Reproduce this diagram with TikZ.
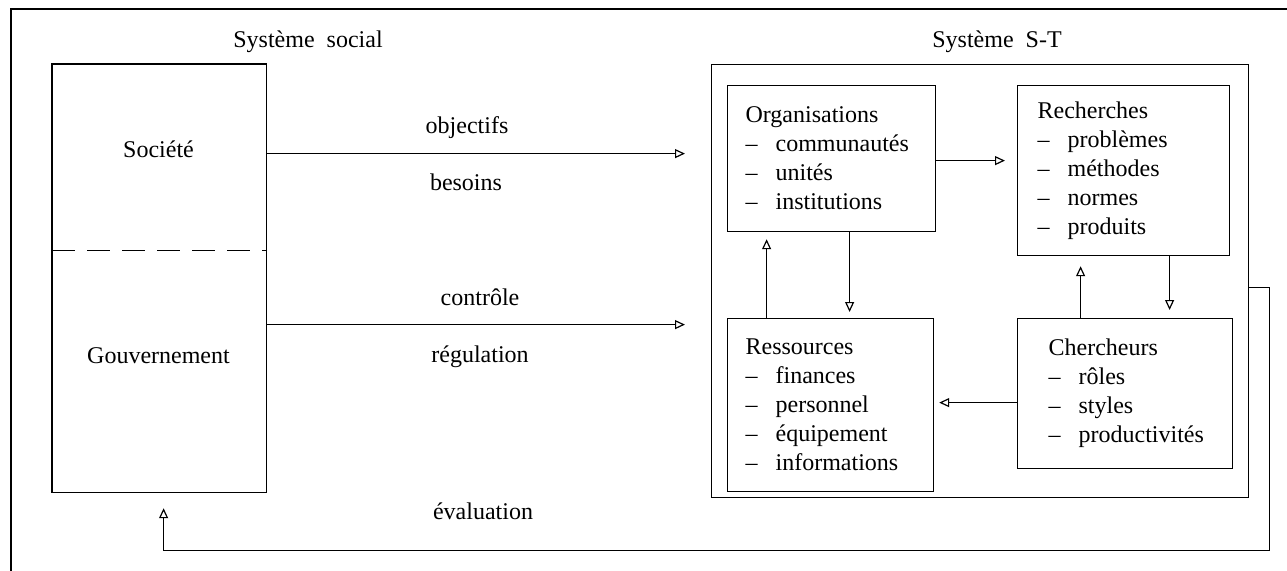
\documentclass[tikz,border=0pt]{standalone}
\usepackage{fontspec}
\setmainfont{Liberation Serif}
\usetikzlibrary{arrows.meta}
\newcommand\itm[1]{\makebox[15pt][l]{–}#1}
\begin{document}
\begin{tikzpicture}[x=0.5pt,y=-0.5pt,line width=0.6pt,
  every node/.style={font=\fontsize{12}{14.5}\selectfont},
  arr/.style={-{Triangle[open,length=5pt,width=4.5pt,line width=0.6pt]}},
  box/.style={draw,anchor=north west,inner sep=0pt},
  area/.style={anchor=north west,inner sep=0pt},
  txt/.style={anchor=west,align=left,inner sep=0pt},
  lbl/.style={anchor=base,inner sep=0pt}]
\useasboundingbox (0,0) rectangle (1287,570);
\clip (0,0) rectangle (1287,570);
% outer frame
\draw (1300,9) -- (11,9) -- (11,600);
% titles
\node[lbl] (tsoc) at (308,47) {Système\ \ social};
\node[lbl] (tst) at (997,47) {Système\ \ S-T};
% social system
\node[area,minimum width=106.5pt,minimum height=92.5pt] (soc) at (52,64) {};
\node[area,minimum width=106.5pt,minimum height=121pt] (gov) at (52,249) {};
\draw (soc.north west) rectangle (gov.south east);
\draw[dash pattern=on 11.5pt off 6pt] (soc.south west) -- (soc.south east);
\node[lbl] (soct) at (158.5,157) {Société};
\node[lbl] (govt) at (158.5,363) {Gouvernement};
% S-T system
\node[box,minimum width=268.5pt,minimum height=216.5pt] (st) at (711,64) {};
\node[box,minimum width=104pt,minimum height=73pt] (org) at (727,85) {};
\node[box,minimum width=106pt,minimum height=85pt] (rech) at (1017,85) {};
\node[box,minimum width=103pt,minimum height=86.5pt] (ress) at (727,318) {};
\node[box,minimum width=107.5pt,minimum height=75pt] (cher) at (1017,318) {};
\node[txt] (orgt) at ([xshift=9pt]org.west) {Organisations\\\itm{communautés}\\\itm{unités}\\\itm{institutions}};
\node[txt] (recht) at ([xshift=10pt]rech.west) {Recherches\\\itm{problèmes}\\\itm{méthodes}\\\itm{normes}\\\itm{produits}};
\node[txt] (resst) at ([xshift=9pt]ress.west) {Ressources\\\itm{finances}\\\itm{personnel}\\\itm{équipement}\\\itm{informations}};
\node[txt] (chert) at ([xshift=15.5pt]cher.west) {Chercheurs\\\itm{rôles}\\\itm{styles}\\\itm{productivités}};
% labels
\node[lbl] (lobj) at (467,133) {objectifs};
\node[lbl] (lbes) at (466,190) {besoins};
\node[lbl] (lcon) at (480,305) {contrôle};
\node[lbl] (lreg) at (480,362) {régulation};
\node[lbl] (leva) at (483,519) {évaluation};
% connectors
\coordinate (c1) at ([yshift=1.75pt]soc.east);
\coordinate (c2) at ([yshift=23pt]gov.east);
\coordinate (c3) at ([yshift=-1pt]org.east);
\coordinate (c4) at ([xshift=9pt]org.south);
\coordinate (c5) at ([xshift=-32pt]ress.north);
\coordinate (c6) at ([xshift=23pt]rech.south);
\coordinate (c7) at ([xshift=-22.25pt]cher.north);
\coordinate (c8) at ([yshift=-4.5pt]cher.west);
\coordinate (c9) at ([yshift=-3.25pt]st.east);
\coordinate (c10) at ([xshift=2.25pt]gov.south);
\draw[arr,shorten >=13pt] (c1) -- (c1 -| st.west);
\draw[arr,shorten >=13pt] (c2) -- (c2 -| st.west);
\draw[arr,shorten >=6pt] (c3) -- (c3 -| rech.west);
\draw[arr,shorten >=3pt] (c4) -- (c4 |- ress.north);
\draw[arr,shorten >=3.5pt] (c5) -- (c5 |- org.south);
\draw[arr,shorten >=4pt] (c6) -- (c6 |- cher.north);
\draw[arr,shorten >=5pt] (c7) -- (c7 |- rech.south);
\draw[arr,shorten >=2.5pt] (c8) -- (c8 -| ress.east);
\draw[arr,shorten >=8pt] (c9) -- ++(20,0) -- ++(0,263) -| (c10);
\end{tikzpicture}
\end{document}
